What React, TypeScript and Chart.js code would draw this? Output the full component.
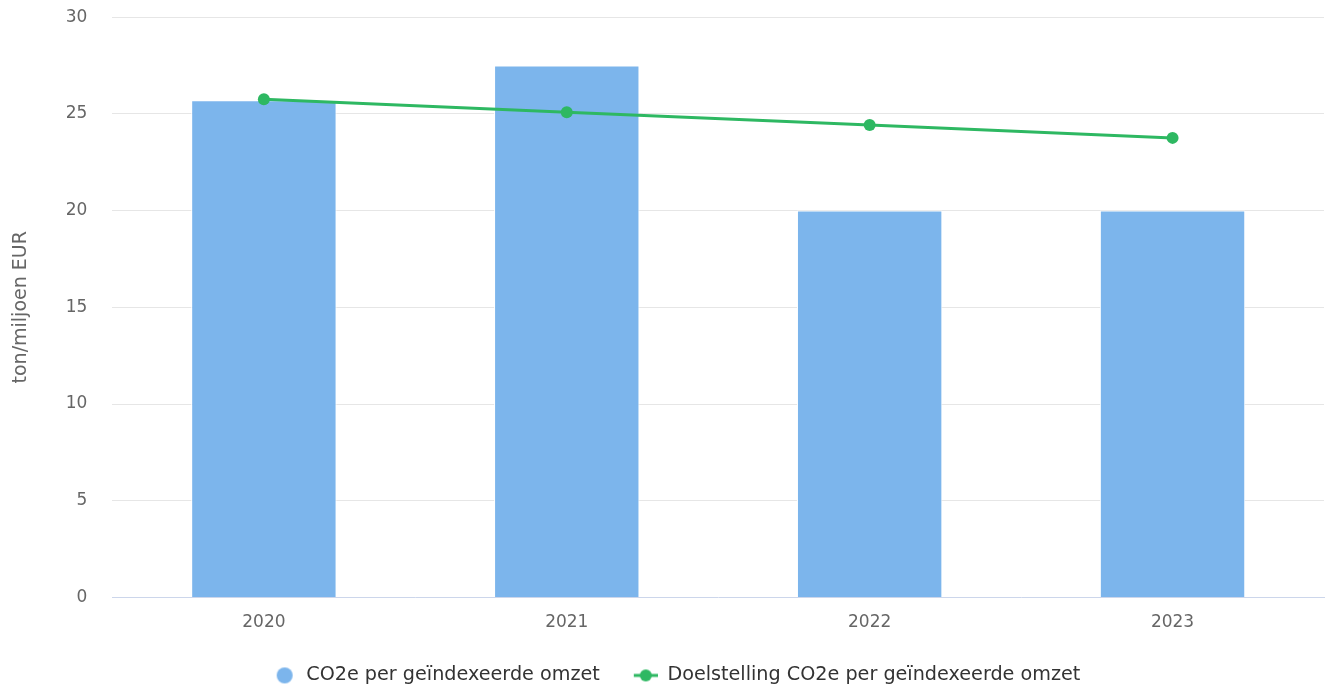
import React, { useEffect, useRef } from "react";
import { Chart, registerables } from "chart.js";

Chart.register(...registerables);

const categories = ["2020", "2021", "2022", "2023"];
const barValues = [25.7, 27.5, 20.0, 20.0];
const targetValues = [25.76, 25.09, 24.42, 23.76];
const barLabel = "CO2e per geïndexeerde omzet";
const lineLabel = "Doelstelling CO2e per geïndexeerde omzet";
const yTicks = [0, 5, 10, 15, 20, 25, 30];

const BAR_COLOR = "#7cb5ec";
const LINE_COLOR = "#2eb862";
const FONT = "'DejaVu Sans', Verdana, sans-serif";
const ICON_W = 40;

function makeCircleIcon(): HTMLCanvasElement {
  const c = document.createElement("canvas");
  c.width = ICON_W;
  c.height = 18;
  const ctx = c.getContext("2d")!;
  ctx.fillStyle = BAR_COLOR;
  ctx.beginPath();
  ctx.arc(ICON_W - 12, 9, 8, 0, Math.PI * 2);
  ctx.fill();
  return c;
}

function makeLineIcon(): HTMLCanvasElement {
  const c = document.createElement("canvas");
  c.width = ICON_W;
  c.height = 18;
  const ctx = c.getContext("2d")!;
  ctx.strokeStyle = LINE_COLOR;
  ctx.lineWidth = 3;
  ctx.beginPath();
  ctx.moveTo(ICON_W - 24, 9);
  ctx.lineTo(ICON_W, 9);
  ctx.stroke();
  ctx.fillStyle = LINE_COLOR;
  ctx.beginPath();
  ctx.arc(ICON_W - 12, 9, 6, 0, Math.PI * 2);
  ctx.fill();
  return c;
}

export default function App() {
  const ref = useRef<HTMLCanvasElement>(null);

  useEffect(() => {
    if (!ref.current) return;
    const circleIcon = makeCircleIcon();
    const lineIcon = makeLineIcon();
    const chart = new Chart(ref.current, {
      data: {
        labels: categories,
        datasets: [
          {
            type: "line",
            label: lineLabel,
            data: targetValues,
            borderColor: LINE_COLOR,
            backgroundColor: LINE_COLOR,
            borderWidth: 3,
            pointRadius: 6,
            pointHoverRadius: 6,
            pointBackgroundColor: LINE_COLOR,
            pointBorderWidth: 0,
            tension: 0,
            order: 0,
          },
          {
            type: "bar",
            label: barLabel,
            data: barValues,
            backgroundColor: BAR_COLOR,
            borderColor: "#ffffff",
            borderWidth: 1,
            barPercentage: 1,
            categoryPercentage: 0.48,
            order: 1,
          },
        ],
      },
      options: {
        animation: false,
        responsive: true,
        maintainAspectRatio: false,
        layout: { padding: { left: 7, right: 0, top: 0, bottom: -8 } },
        scales: {
          x: {
            grid: { display: false, drawTicks: false },
            border: { display: true, color: "#ccd6eb", width: 1, z: 2 },
            ticks: { color: "#666666", font: { family: FONT, size: 17 }, padding: 15 },
          },
          y: {
            min: 0,
            max: 30,
            afterBuildTicks: (axis: any) => {
              axis.ticks = yTicks.map((v) => ({ value: v }));
            },
            grid: {
              color: (ctx: any) => (ctx.tick && ctx.tick.value === 0 ? "rgba(0,0,0,0)" : "#e6e6e6"),
              drawTicks: false,
              lineWidth: 1,
            },
            border: { display: false },
            ticks: { color: "#666666", font: { family: FONT, size: 17 }, padding: 25 },
            title: {
              display: true,
              text: "ton/miljoen EUR",
              color: "#666666",
              font: { family: FONT, size: 19 },
              padding: { top: 3, bottom: 8 },
            },
          },
        },
        plugins: {
          tooltip: { enabled: false },
          legend: {
            position: "bottom",
            labels: {
              color: "#333333",
              font: { family: FONT, size: 19.2 },
              usePointStyle: true,
              pointStyleWidth: ICON_W,
              boxHeight: 18,
              padding: 18,
              generateLabels: () => [
                {
                  text: barLabel,
                  fillStyle: BAR_COLOR,
                  strokeStyle: BAR_COLOR,
                  lineWidth: 0,
                  pointStyle: circleIcon,
                  hidden: false,
                  datasetIndex: 1,
                  fontColor: "#333333",
                },
                {
                  text: lineLabel,
                  fillStyle: LINE_COLOR,
                  strokeStyle: LINE_COLOR,
                  lineWidth: 0,
                  pointStyle: lineIcon,
                  hidden: false,
                  datasetIndex: 0,
                  fontColor: "#333333",
                },
              ],
            },
          },
        },
      },
    } as any);
    return () => chart.destroy();
  }, []);

  return (
    <div style={{ position: "fixed", left: 0, top: -18, width: 1330, height: 705, background: "#fff" }}>
      <canvas ref={ref} />
    </div>
  );
}
